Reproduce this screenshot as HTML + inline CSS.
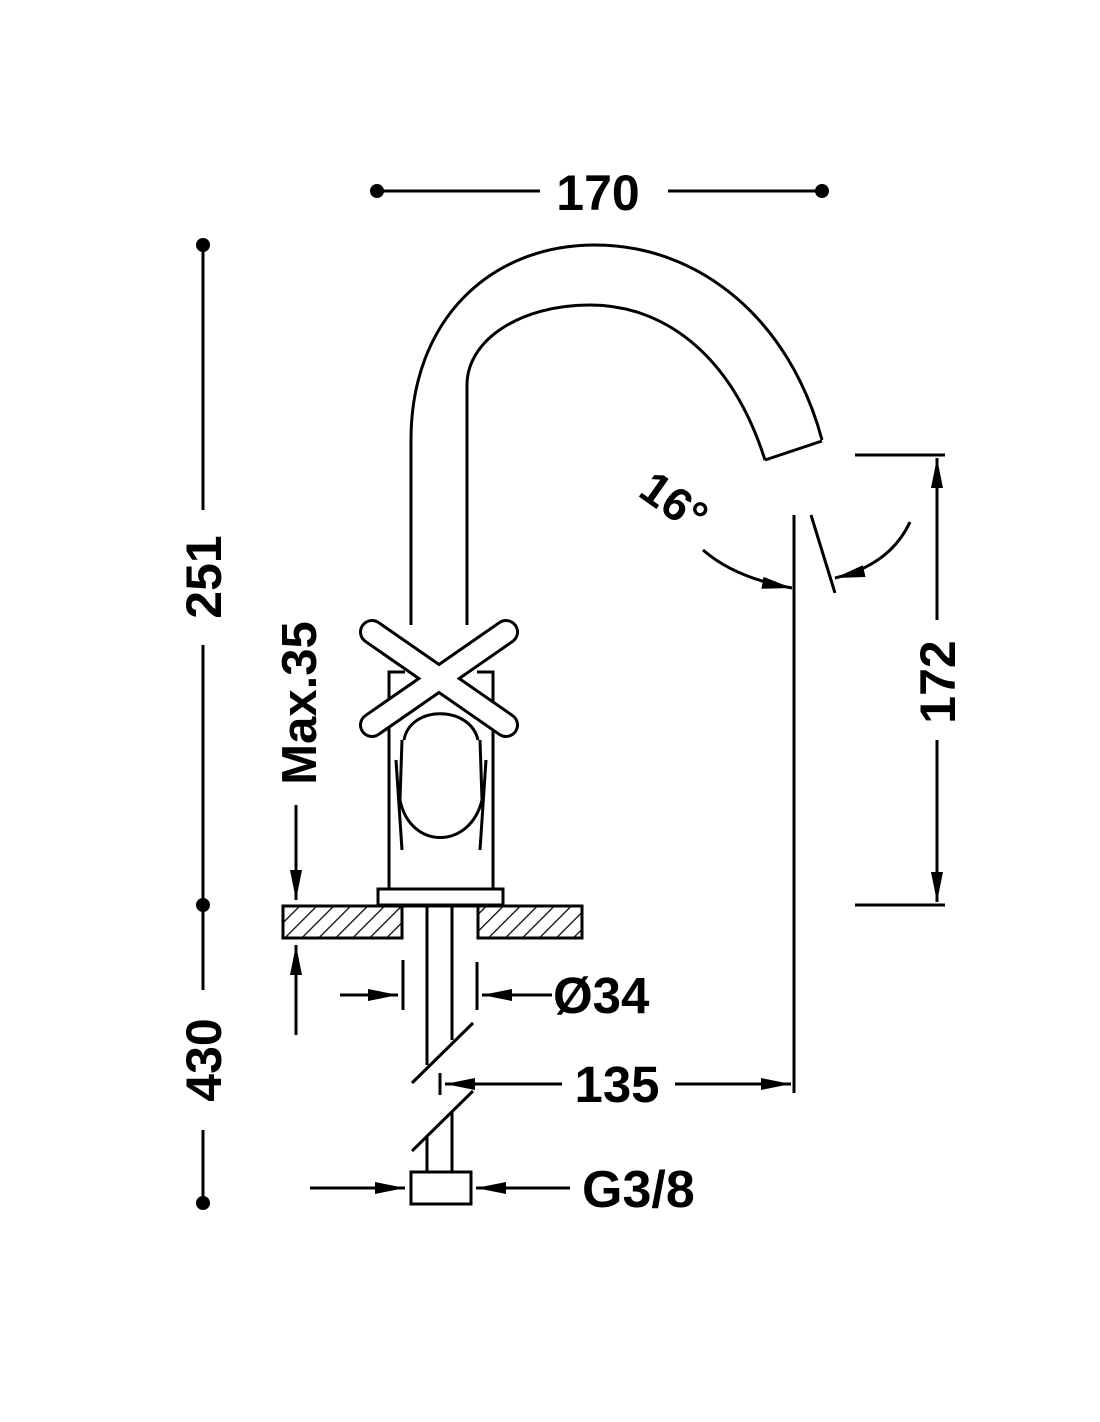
<!DOCTYPE html>
<html><head><meta charset="utf-8"><style>html,body{margin:0;padding:0;background:#fff}svg{display:block}text{font-family:"Liberation Sans",sans-serif;font-weight:bold;fill:#000}</style></head>
<body>
<svg width="1100" height="1422" viewBox="0 0 1100 1422" xmlns="http://www.w3.org/2000/svg">
<defs>
<marker id="ah" viewBox="0 0 30 14" refX="30" refY="7" markerWidth="30" markerHeight="14" markerUnits="userSpaceOnUse" orient="auto"><path d="M0,1 L30,7 L0,13 Z" fill="#000"/></marker>
<pattern id="hatch" width="12" height="12" patternUnits="userSpaceOnUse" patternTransform="rotate(45)"><line x1="0" y1="0" x2="0" y2="12" stroke="#000" stroke-width="2.5"/></pattern>
</defs>
<g stroke="#000" stroke-width="3" fill="none">
<line x1="377" y1="191" x2="540" y2="191"/><line x1="668" y1="191" x2="822" y2="191"/>
<line x1="203" y1="245" x2="203" y2="510"/><line x1="203" y1="645" x2="203" y2="990"/><line x1="203" y1="1130" x2="203" y2="1203"/>
<path d="M411,625 L411,440 C411,320 490,245 595,245 C700,245 790,320 822,440"/>
<path d="M467,625 L467,385 C467,340 520,305 590,305 C660,305 730,350 765,460"/>
<line x1="765" y1="460" x2="822" y2="441"/>
<path d="M389,888 L389,672 L405,672"/><path d="M493,888 L493,672 L477,672"/>
<rect x="378" y="889" width="125" height="16"/>
<path d="M404,740 C410,705 470,705 478,740"/>
<path d="M396,760 L402,850"/><path d="M486,760 L480,850"/>
<path d="M400,800 C410,850 470,850 482,800"/>
<path d="M402,740 L400,800"/><path d="M480,740 L482,800"/>
<rect x="283" y="906" width="119" height="32" fill="url(#hatch)"/>
<rect x="478" y="906" width="104" height="32" fill="url(#hatch)"/>
<line x1="283" y1="906" x2="582" y2="906"/>
<line x1="427" y1="906" x2="427" y2="1065"/><line x1="452" y1="906" x2="452" y2="1040"/>
<line x1="412" y1="1083" x2="473" y2="1023"/><line x1="412" y1="1151" x2="473" y2="1091"/>
<line x1="427" y1="1137" x2="427" y2="1172"/><line x1="452" y1="1112" x2="452" y2="1172"/>
<rect x="411" y="1172" width="60" height="32"/>
<line x1="403" y1="960" x2="403" y2="1010"/><line x1="477" y1="962" x2="477" y2="1010"/>
<line x1="340" y1="995" x2="398" y2="995" marker-end="url(#ah)"/>
<line x1="552" y1="995" x2="482" y2="995" marker-end="url(#ah)"/>
<line x1="440" y1="1073" x2="440" y2="1095"/>
<line x1="562" y1="1084" x2="445" y2="1084" marker-end="url(#ah)"/>
<line x1="675" y1="1084" x2="791" y2="1084" marker-end="url(#ah)"/>
<line x1="794" y1="515" x2="794" y2="1093"/>
<line x1="310" y1="1188" x2="405" y2="1188" marker-end="url(#ah)"/>
<line x1="570" y1="1188" x2="476" y2="1188" marker-end="url(#ah)"/>
<line x1="296" y1="805" x2="296" y2="900" marker-end="url(#ah)"/>
<line x1="296" y1="1035" x2="296" y2="945" marker-end="url(#ah)"/>
<line x1="855" y1="455" x2="945" y2="455"/><line x1="855" y1="905" x2="945" y2="905"/>
<line x1="937" y1="620" x2="937" y2="458" marker-end="url(#ah)"/>
<line x1="937" y1="740" x2="937" y2="902" marker-end="url(#ah)"/>
<line x1="811" y1="515" x2="835" y2="593"/>
<path d="M703,550 Q735,578 792,588" marker-end="url(#ah)"/>
<path d="M910,522 Q890,565 835,578" marker-end="url(#ah)"/>
</g>
<g fill="none" stroke-linecap="round">
<line x1="372" y1="632" x2="506" y2="725" stroke="#000" stroke-width="26"/>
<line x1="506" y1="632" x2="372" y2="725" stroke="#000" stroke-width="26"/>
<line x1="372" y1="632" x2="506" y2="725" stroke="#fff" stroke-width="20"/>
<line x1="506" y1="632" x2="372" y2="725" stroke="#fff" stroke-width="20"/>
</g>
<g fill="#000">
<circle cx="377" cy="191" r="7"/><circle cx="822" cy="191" r="7"/>
<circle cx="203" cy="245" r="7"/><circle cx="203" cy="905" r="7"/><circle cx="203" cy="1203" r="7"/>
</g>
<text x="598" y="210" font-size="50" text-anchor="middle">170</text>
<text transform="translate(221,577) rotate(-90)" font-size="50" text-anchor="middle">251</text>
<text transform="translate(221,1060) rotate(-90)" font-size="50" text-anchor="middle">430</text>
<text transform="translate(316,703) rotate(-90)" font-size="49" text-anchor="middle">Max.35</text>
<text transform="translate(955,682) rotate(-90)" font-size="50" text-anchor="middle">172</text>
<text transform="translate(665,515) rotate(35)" font-size="46" text-anchor="middle">16°</text>
<text x="553" y="1013" font-size="51">Ø34</text>
<text x="617" y="1102" font-size="51" text-anchor="middle">135</text>
<text x="582" y="1207" font-size="52">G3/8</text>
</svg>
</body></html>
